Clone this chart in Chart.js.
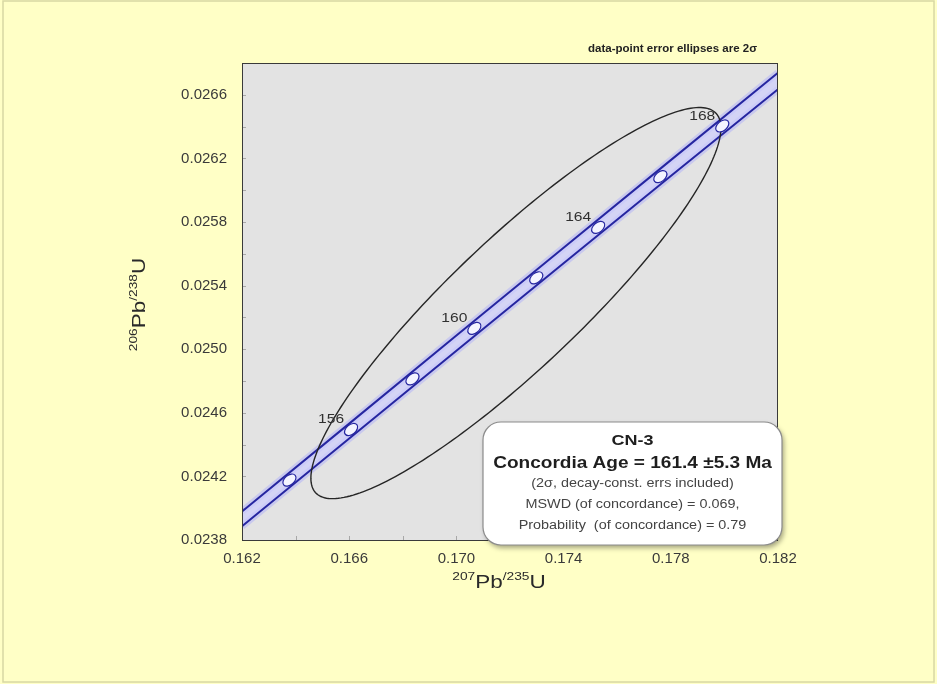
<!DOCTYPE html>
<html>
<head>
<meta charset="utf-8">
<title>CN-3 concordia</title>
<script src="https://cdn.jsdelivr.net/npm/chart.js@4.4.1/dist/chart.umd.min.js"></script>
<style>
  html, body { margin: 0; padding: 0; background: #ffffc6; }
  #wrap { width: 937px; height: 684px; }
</style>
</head>
<body>
<div id="wrap"><canvas id="concordia" width="937" height="684"></canvas></div>
<script>
// labelled ticks on both axes
const xTickLabels = ['0.162', '0.166', '0.170', '0.174', '0.178', '0.182'];
const yTickLabels = ['0.0238', '0.0242', '0.0246', '0.0250', '0.0254', '0.0258', '0.0262', '0.0266'];

// age marks (Ma) along the concordia
const markAges = [154, 156, 158, 160, 162, 164, 166, 168];
const markX = [0.16377, 0.16607, 0.16836, 0.17067, 0.17298, 0.17529, 0.17761, 0.17992];
const markY = [0.024177, 0.024495, 0.024813, 0.025131, 0.025449, 0.025766, 0.026085, 0.026404];
const labelledAges = [156, 160, 164, 168];

// concordia band (decay-constant errors)
const bandX = [0.162, 0.166, 0.170, 0.174, 0.178, 0.182];
const bandUpper = [0.023979, 0.024532, 0.025086, 0.025638, 0.026189, 0.026739];
const bandLower = [0.023887, 0.024438, 0.024990, 0.025540, 0.026089, 0.026635];

// CN-3 error ellipse, 2 sigma
const ellipseCenter = [0.17222, 0.02529];
const ellipseHalfAxes = [0.00765, 0.00123];
const ellipseRho = 0.895;

const boxLines = [
  'CN-3',
  'Concordia Age = 161.4 \u00b15.3 Ma',
  '(2\u03c3, decay-const. errs included)',
  'MSWD (of concordance) = 0.069,',
  'Probability  (of concordance) = 0.79'
];

const BAND_BLUE = '#2626a0';
const SANS = '"Liberation Sans", Arial, sans-serif';

const toPoints = (xs, ys) => xs.map((x, i) => ({ x: x, y: ys[i] }));

function stretchText(ctx, text, x, y, font, color, align, sx) {
  ctx.save();
  ctx.font = font;
  ctx.fillStyle = color;
  ctx.textAlign = align;
  ctx.textBaseline = 'middle';
  ctx.translate(x, y);
  ctx.scale(sx, 1);
  ctx.fillText(text, 0, 0);
  ctx.restore();
}

// isotope ratio title with raised mass numbers, centred on the origin
function ratioTitle(ctx, parts, sx) {
  const big = '18px ' + SANS, small = '11px ' + SANS;
  let total = 0;
  parts.forEach(p => { ctx.font = p[1] ? small : big; total += ctx.measureText(p[0]).width; });
  ctx.scale(sx, 1);
  let x = -total / 2;
  ctx.fillStyle = '#2a2a2a';
  ctx.textAlign = 'left';
  ctx.textBaseline = 'alphabetic';
  parts.forEach(p => {
    ctx.font = p[1] ? small : big;
    ctx.fillText(p[0], x, p[1] ? -8 : 0);
    x += ctx.measureText(p[0]).width;
  });
}

const concordiaDecor = {
  id: 'concordiaDecor',
  beforeDraw(chart) {
    const { ctx, chartArea: a } = chart;
    ctx.save();
    ctx.fillStyle = '#ffffc6';
    ctx.fillRect(0, 0, chart.width, chart.height);
    ctx.strokeStyle = '#d8d8a4';
    ctx.lineWidth = 1.5;
    ctx.strokeRect(3, 1, chart.width - 6, chart.height - 3);
    ctx.fillStyle = '#e3e3e3';
    ctx.fillRect(a.left, a.top, a.right - a.left, a.bottom - a.top);
    ctx.restore();
  },
  beforeDatasetsDraw(chart) {
    // short inward tick marks
    const { ctx, chartArea: a, scales } = chart;
    ctx.save();
    ctx.strokeStyle = '#a8a8a8';
    ctx.lineWidth = 1;
    scales.y.ticks.forEach(t => {
      const py = Math.round(scales.y.getPixelForValue(t.value)) + 0.5;
      if (py < a.top + 2 || py > a.bottom - 2) return;
      ctx.beginPath(); ctx.moveTo(a.left, py); ctx.lineTo(a.left + 4, py); ctx.stroke();
    });
    scales.x.ticks.forEach(t => {
      const px = Math.round(scales.x.getPixelForValue(t.value)) + 0.5;
      if (px < a.left + 2 || px > a.right - 2) return;
      ctx.beginPath(); ctx.moveTo(px, a.bottom); ctx.lineTo(px, a.bottom - 4); ctx.stroke();
    });
    ctx.restore();
  },
  afterDatasetsDraw(chart) {
    const { ctx, chartArea: a, scales } = chart;
    const xs = scales.x, ys = scales.y;
    ctx.save();
    ctx.beginPath();
    ctx.rect(a.left, a.top, a.right - a.left, a.bottom - a.top);
    ctx.clip();

    // data-point ellipse
    const [cx, cy] = ellipseCenter, [ax, ay] = ellipseHalfAxes;
    const k = Math.sqrt(1 - ellipseRho * ellipseRho);
    ctx.beginPath();
    for (let i = 0; i <= 240; i++) {
      const t = i / 240 * Math.PI * 2;
      const px = xs.getPixelForValue(cx + ax * Math.cos(t));
      const py = ys.getPixelForValue(cy + ay * (ellipseRho * Math.cos(t) + k * Math.sin(t)));
      if (i === 0) ctx.moveTo(px, py); else ctx.lineTo(px, py);
    }
    ctx.closePath();
    ctx.strokeStyle = '#262626';
    ctx.lineWidth = 1.4;
    ctx.stroke();

    // age marks, tilted with the band
    const n = bandX.length - 1;
    const ang = Math.atan2(
      ys.getPixelForValue(bandUpper[n]) - ys.getPixelForValue(bandUpper[0]),
      xs.getPixelForValue(bandX[n]) - xs.getPixelForValue(bandX[0]));
    markAges.forEach((age, i) => {
      const px = xs.getPixelForValue(markX[i]), py = ys.getPixelForValue(markY[i]);
      ctx.beginPath();
      ctx.ellipse(px, py, 7.5, 4.8, ang, 0, Math.PI * 2);
      ctx.fillStyle = '#f4f4ff';
      ctx.fill();
      ctx.strokeStyle = BAND_BLUE;
      ctx.lineWidth = 1.2;
      ctx.stroke();
      if (labelledAges.includes(age)) {
        stretchText(ctx, String(age), px - 20, py - 10, '13px ' + SANS, '#303030', 'center', 1.2);
      }
    });
    ctx.restore();

    // plot frame
    ctx.save();
    ctx.strokeStyle = '#3a3a3a';
    ctx.lineWidth = 1;
    ctx.strokeRect(a.left + 0.5, a.top + 0.5, a.right - a.left - 1, a.bottom - a.top);
    ctx.restore();
  },
  afterDraw(chart) {
    const { ctx, chartArea: a } = chart;

    // axis titles
    ctx.save();
    ctx.translate((a.left + a.right) / 2 - 11, 588);
    ratioTitle(ctx, [['207', true], ['Pb', false], ['/235', true], ['U', false]], 1.25);
    ctx.restore();
    ctx.save();
    ctx.translate(145, (a.top + a.bottom) / 2 + 3);
    ctx.rotate(-Math.PI / 2);
    ratioTitle(ctx, [['206', true], ['Pb', false], ['/238', true], ['U', false]], 1.25);
    ctx.restore();

    stretchText(ctx, 'data-point error ellipses are 2\u03c3', 757, 49, 'bold 10px ' + SANS, '#222', 'right', 1.15);

    // result box
    const bx = 483, by = 422, bw = 299, bh = 123, r = 18;
    ctx.save();
    ctx.beginPath();
    ctx.roundRect(bx, by, bw, bh, r);
    ctx.shadowColor = 'rgba(0,0,0,0.35)';
    ctx.shadowBlur = 5;
    ctx.shadowOffsetX = 2;
    ctx.shadowOffsetY = 3;
    ctx.fillStyle = '#ffffff';
    ctx.fill();
    ctx.shadowColor = 'transparent';
    ctx.strokeStyle = '#8c8c8c';
    ctx.lineWidth = 1.2;
    ctx.stroke();
    ctx.restore();

    const mid = bx + bw / 2;
    stretchText(ctx, boxLines[0], mid, 441, 'bold 15px ' + SANS, '#1e1e1e', 'center', 1.2);
    stretchText(ctx, boxLines[1], mid, 463, 'bold 17px ' + SANS, '#1e1e1e', 'center', 1.12);
    stretchText(ctx, boxLines[2], mid, 484, '12px ' + SANS, '#444', 'center', 1.2);
    stretchText(ctx, boxLines[3], mid, 505, '12px ' + SANS, '#444', 'center', 1.2);
    stretchText(ctx, boxLines[4], mid, 526, '12px ' + SANS, '#444', 'center', 1.2);
  }
};

const tickFont = { family: SANS, size: 15 };

new Chart(document.getElementById('concordia'), {
  type: 'scatter',
  data: {
    datasets: [
      { data: toPoints(bandX, bandUpper), showLine: true, borderColor: BAND_BLUE, borderWidth: 2,
        pointRadius: 0, fill: false, clip: 0, order: 1 },
      { data: toPoints(bandX, bandLower), showLine: true, borderColor: BAND_BLUE, borderWidth: 2,
        pointRadius: 0, fill: '-1', backgroundColor: 'rgba(205,205,252,0.7)', clip: 0, order: 1 },
      { data: toPoints(bandX, bandUpper), showLine: true, borderColor: 'rgba(175,175,250,0.5)', borderWidth: 7,
        pointRadius: 0, fill: false, clip: 0, order: 2 },
      { data: toPoints(bandX, bandLower), showLine: true, borderColor: 'rgba(175,175,250,0.5)', borderWidth: 7,
        pointRadius: 0, fill: false, clip: 0, order: 2 }
    ]
  },
  options: {
    responsive: false,
    animation: false,
    layout: { padding: { left: 0, right: 159, top: 63, bottom: 0 } },
    plugins: { legend: { display: false }, tooltip: { enabled: false } },
    scales: {
      x: {
        type: 'linear', min: 0.162, max: 0.182,
        afterFit: s => { s.height = 144; },
        grid: { display: false, drawTicks: false }, border: { display: false },
        ticks: {
          stepSize: 0.002, autoSkip: false, maxRotation: 0, padding: 10,
          font: tickFont, color: '#3a3a3a',
          callback: v => { const s = Number(v).toFixed(3); return xTickLabels.includes(s) ? s : ''; }
        }
      },
      y: {
        type: 'linear', min: 0.0238, max: 0.0268,
        afterFit: s => { s.width = 242; },
        grid: { display: false, drawTicks: false }, border: { display: false },
        ticks: {
          stepSize: 0.0002, autoSkip: false, padding: 15,
          font: tickFont, color: '#3a3a3a',
          callback: v => { const s = Number(v).toFixed(4); return yTickLabels.includes(s) ? s : ''; }
        }
      }
    }
  },
  plugins: [concordiaDecor]
});
</script>
</body>
</html>
